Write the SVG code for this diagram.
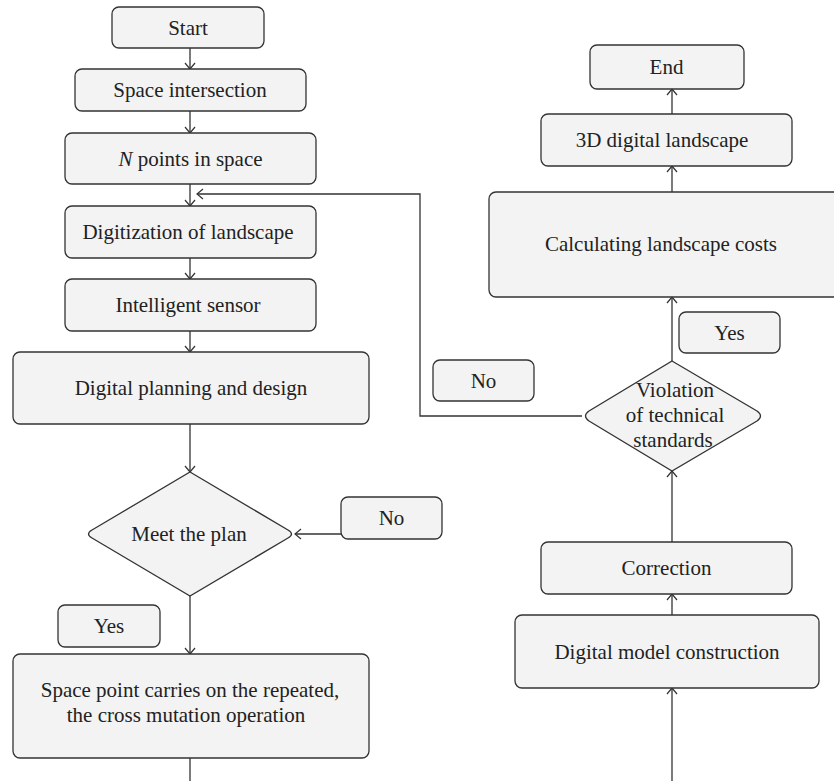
<svg xmlns="http://www.w3.org/2000/svg" width="834" height="781" viewBox="0 0 834 781" font-family="'Liberation Serif', 'Times New Roman', Times, serif">
  <style>
    .box { fill: #f3f3f3; stroke: #333; stroke-width: 1.3; }
    .lbl { font-size: 21px; fill: #222; text-anchor: middle; }
    .wire { fill: none; stroke: #333; stroke-width: 1.3; }
  </style>
  <defs>
    <marker id="arrow" markerWidth="12" markerHeight="12" viewBox="-8 -6 10 12" refX="0" refY="0" orient="auto" markerUnits="userSpaceOnUse">
      <path d="M-6,-5 L0,0 L-6,5" fill="none" stroke="#333" stroke-width="1.2"/>
    </marker>
  </defs>

  <!-- connectors -->
  <g id="connectors" class="wire" marker-end="url(#arrow)">
    <line x1="190" y1="48" x2="190" y2="69"/>
    <line x1="190" y1="111" x2="190" y2="133"/>
    <line x1="190" y1="184" x2="190" y2="206"/>
    <line x1="190" y1="258" x2="190" y2="279"/>
    <line x1="190" y1="331" x2="190" y2="352"/>
    <line x1="190" y1="424" x2="190" y2="472"/>
    <line x1="341" y1="534" x2="295" y2="534"/>
    <line x1="190" y1="596" x2="190" y2="654"/>
    <line x1="190" y1="758" x2="190" y2="781" marker-end="none"/>
    <polyline points="582,416 420,416 420,194 197,194"/>
    <line x1="672" y1="781" x2="672" y2="688"/>
    <line x1="672" y1="615" x2="672" y2="594"/>
    <line x1="672" y1="542" x2="672" y2="471"/>
    <line x1="672" y1="361" x2="672" y2="297"/>
    <line x1="672" y1="192" x2="672" y2="166"/>
    <line x1="672" y1="114" x2="672" y2="89"/>
  </g>

  <!-- left column -->
  <g id="start">
    <rect class="box" x="112" y="7" width="152" height="41" rx="7"/>
    <text class="lbl" x="188" y="34.5">Start</text>
  </g>
  <g id="space-intersection">
    <rect class="box" x="75" y="69" width="231" height="42" rx="7"/>
    <text class="lbl" x="190" y="97">Space intersection</text>
  </g>
  <g id="n-points">
    <rect class="box" x="65" y="133" width="251" height="51" rx="7"/>
    <text class="lbl" x="190.5" y="165.5"><tspan font-style="italic">N</tspan> points in space</text>
  </g>
  <g id="digitization">
    <rect class="box" x="65" y="206" width="251" height="52" rx="7"/>
    <text class="lbl" x="188" y="239">Digitization of landscape</text>
  </g>
  <g id="intelligent-sensor">
    <rect class="box" x="65" y="279" width="251" height="52" rx="7"/>
    <text class="lbl" x="188" y="312">Intelligent sensor</text>
  </g>
  <g id="digital-planning">
    <rect class="box" x="13" y="352" width="356" height="72" rx="7"/>
    <text class="lbl" x="191" y="395">Digital planning and design</text>
  </g>
  <g id="meet-the-plan">
    <path class="box" d="M190,472 L288,530 Q295,534 288,538 L190,596 L92,538 Q85,534 92,530 Z"/>
    <text class="lbl" x="189" y="541">Meet the plan</text>
  </g>
  <g id="no-plan">
    <rect class="box" x="341" y="497" width="101" height="42" rx="7"/>
    <text class="lbl" x="391.5" y="525">No</text>
  </g>
  <g id="yes-plan">
    <rect class="box" x="58" y="605" width="102" height="42" rx="7"/>
    <text class="lbl" x="109" y="633">Yes</text>
  </g>
  <g id="space-point">
    <rect class="box" x="13" y="654" width="356" height="104" rx="7"/>
    <text class="lbl" x="190" y="697">Space point carries on the repeated,</text>
    <text class="lbl" x="186" y="722">the cross mutation operation</text>
  </g>

  <!-- right column -->
  <g id="end">
    <rect class="box" x="590" y="45" width="154" height="44" rx="7"/>
    <text class="lbl" x="666.5" y="74">End</text>
  </g>
  <g id="landscape-3d">
    <rect class="box" x="541" y="114" width="251" height="52" rx="7"/>
    <text class="lbl" x="662" y="147">3D digital landscape</text>
  </g>
  <g id="landscape-costs">
    <rect class="box" x="489" y="192" width="360" height="105" rx="7"/>
    <text class="lbl" x="661" y="251">Calculating landscape costs</text>
  </g>
  <g id="yes-standards">
    <rect class="box" x="679" y="312" width="101" height="41" rx="7"/>
    <text class="lbl" x="729.5" y="339.5">Yes</text>
  </g>
  <g id="no-standards">
    <rect class="box" x="433" y="360" width="101" height="41" rx="7"/>
    <text class="lbl" x="483.5" y="387.5">No</text>
  </g>
  <g id="violation">
    <path class="box" d="M672,361 L757,411 Q764,416 757,421 L672,471 L589,421 Q582,416 589,411 Z"/>
    <text class="lbl" x="675" y="397">Violation</text>
    <text class="lbl" x="675" y="422">of technical</text>
    <text class="lbl" x="673" y="447">standards</text>
  </g>
  <g id="correction">
    <rect class="box" x="541" y="542" width="251" height="52" rx="7"/>
    <text class="lbl" x="666.5" y="575">Correction</text>
  </g>
  <g id="model-construction">
    <rect class="box" x="515" y="615" width="304" height="73" rx="7"/>
    <text class="lbl" x="667" y="658.5">Digital model construction</text>
  </g>
</svg>
